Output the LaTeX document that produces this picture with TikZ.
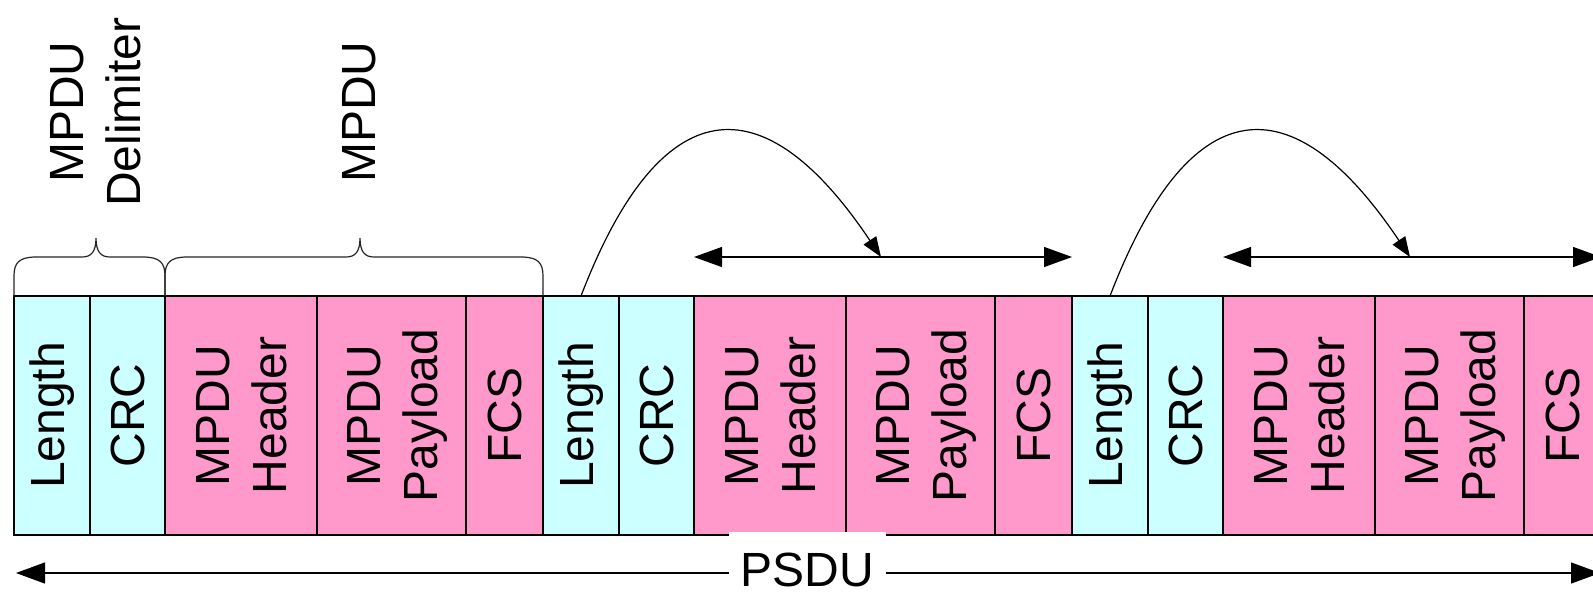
\documentclass[tikz,border=0pt]{standalone}
\usepackage{fontspec}
\setmainfont{Liberation Sans}
\usepackage{graphicx}
\usetikzlibrary{arrows.meta}

\definecolor{delimfill}{HTML}{CCFFFF}
\definecolor{mpdufill}{HTML}{FF99CC}

% vertical (rotated) text, one or two centred lines
\newcommand\vlabel[1]{\rotatebox{90}{#1}}
\newcommand\vpair[2]{\rotatebox{90}{\begin{tabular}{@{}c@{}}\rule{0pt}{25.7pt}#1\\#2\end{tabular}}}

% one A-MPDU subframe: delimiter (Length, CRC) followed by the MPDU
\newcommand\ampdugroup[2]{%
  \node[cell=76, delim] (len#2) at (#1,296) {\vlabel{Length}};
  \node[cell=75, delim] (crc#2) at (len#2.north east) {\vlabel{CRC}};
  \node[cell=152, mpdu] (hdr#2) at (crc#2.north east) {\vpair{MPDU}{Header}};
  \node[cell=149, mpdu] (pay#2) at (hdr#2.north east) {\vpair{MPDU}{Payload}};
  \node[cell=77, mpdu] (fcs#2) at (pay#2.north east) {\vlabel{FCS}};
}

% curly brace from x=#1 to x=#3 with its tip at x=#2
\newcommand\bracepath[3]{%
  (#1,296) -- (#1,276) .. controls (#1,263) and (#1+5,257) .. (#1+22,257)
  -- (#2-14,257) .. controls (#2-5,257) and (#2,252) .. (#2,238)
  .. controls (#2,252) and (#2+5,257) .. (#2+14,257)
  -- (#3-22,257) .. controls (#3-5,257) and (#3,263) .. (#3,276) -- (#3,296)}

\begin{document}
\begin{tikzpicture}[x=0.5pt, y=-0.5pt,
  font=\fontsize{24}{28.5}\selectfont,
  cell/.style={draw=black, line width=0.55pt, minimum width=#1*0.5pt,
    minimum height=119.5pt, inner sep=0pt, outer sep=0pt, anchor=north west},
  delim/.style={fill=delimfill},
  mpdu/.style={fill=mpdufill},
  brace/.style={draw=black!85, line width=0.6pt},
  toplbl/.style={inner sep=0pt},
  span/.style={line width=0.6pt,
    {Triangle[length=14pt,width=10pt]}-{Triangle[length=14pt,width=10pt]}},
  hop/.style={line width=0.6pt, -{Triangle[length=10pt,width=7.5pt]}},
  psduarrow/.style={line width=0.6pt, -{Triangle[length=14.5pt,width=10.5pt]}},
  psdulbl/.style={fill=white, minimum width=78.5pt, minimum height=29pt,
    inner sep=0pt, text height=25pt, text depth=0pt, anchor=north}]

\fill[white] (0,0) rectangle (1593,595);
\useasboundingbox (0,0) rectangle (1593,595);

% three subframes in a row
\ampdugroup{14}{1}
\ampdugroup{543}{2}
\ampdugroup{1072}{3}

% braces over the first subframe
\draw[brace] \bracepath{14}{96}{165};
\draw[brace] \bracepath{165}{360}{543};
\node[toplbl] (delimlbl) at (94.5,112) {\vpair{MPDU}{Delimiter}};
\node[toplbl] (mpdulbl) at (359,112) {\vlabel{MPDU}};

% length field pointing at the MPDU extent
\foreach \g in {2,3}{
  \coordinate (spanL\g) at ([yshift=19.5pt]hdr\g.north west);
  \coordinate (spanR\g) at ([yshift=19.5pt]fcs\g.north east);
  \coordinate (tip\g) at ([xshift=93.5pt,yshift=19.5pt]hdr\g.north west);
  \draw[span] (spanL\g) -- (spanR\g);
  \draw[hop] (len\g.north) .. controls +(74,-193) and +(-126,-188) .. (tip\g);
}

% PSDU extent
\node[psdulbl] (psdu) at (807.5,532) {PSDU};
\coordinate (psduL) at (16,573);
\coordinate (psduR) at (1600,573);
\draw[psduarrow] (psdu.west |- psduL) -- (psduL);
\draw[psduarrow] (psdu.east |- psduR) -- (psduR);

\end{tikzpicture}
\end{document}
